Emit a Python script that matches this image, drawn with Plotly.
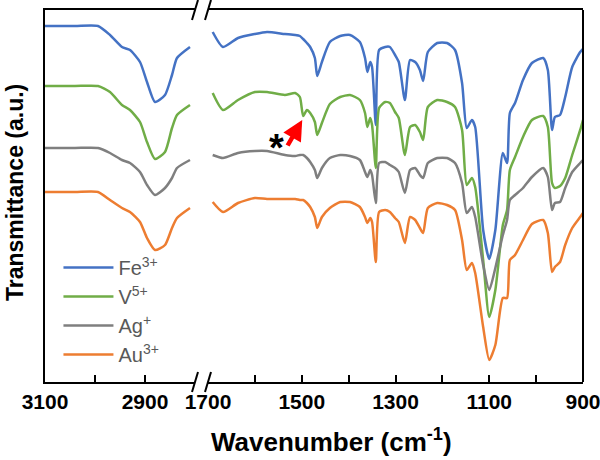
import plotly.graph_objects as go

# ---------------- data ----------------
series_names = ["Fe<sup>3+</sup>", "V<sup>5+</sup>", "Ag<sup>+</sup>", "Au<sup>3+</sup>"]
series_colors = ["#4472C4", "#70AD47", "#7F7F7F", "#ED7D31"]

# high-wavenumber window (C-H stretch)
wn_high = [3100, 3040, 2994, 2970, 2946, 2930, 2910, 2896, 2880, 2860, 2846, 2836, 2810]
fe_high = [356, 356, 356, 347, 335, 332, 320, 300, 280, 287, 307, 324, 335]
v_high = [296, 296, 296, 290, 277, 272, 260, 240, 223, 230, 254, 267, 277]
ag_high = [234, 234, 234, 229, 222, 219, 210, 197, 187, 194, 204, 214, 222]
au_high = [190, 190, 190, 182, 174, 170, 160, 144, 132, 137, 154, 164, 174]

# fingerprint window
wn_low = [1690, 1668, 1636, 1600, 1574, 1536, 1514, 1504, 1497, 1489, 1482, 1472, 1467,
          1457, 1440, 1418, 1397, 1376, 1365, 1360, 1354, 1350, 1342, 1335, 1322, 1312,
          1301, 1293, 1280, 1269, 1258, 1248, 1241, 1231, 1211, 1190, 1173, 1158, 1148,
          1137, 1130, 1113, 1100, 1087, 1071, 1062, 1056, 1045, 1028, 1009, 985, 975,
          966, 960, 949, 938, 923, 906, 900]
fe_low = [350, 335, 344, 348, 350, 348, 347, 346, 343, 339, 335, 324, 306,
          320, 340, 346, 347, 340, 324, 310, 320, 315, 257, 332, 335, 335,
          327, 320, 282, 322, 320, 312, 301, 330, 339, 339, 332, 299, 254,
          262, 255, 152, 123, 152, 229, 219, 269, 279, 302, 319, 324, 312,
          252, 265, 267, 285, 315, 330, 333]
v_low = [289, 272, 282, 290, 290, 287, 289, 285, 266, 272, 269, 260, 247,
         259, 278, 285, 287, 282, 269, 255, 264, 257, 214, 274, 280, 279,
         270, 264, 227, 255, 257, 250, 242, 275, 282, 280, 275, 252, 197,
         204, 195, 122, 65, 92, 157, 172, 212, 225, 245, 262, 266, 255,
         199, 194, 196, 204, 227, 252, 262]
ag_low = [227, 224, 229, 231, 231, 227, 226, 227, 227, 224, 220, 212, 204,
          214, 224, 227, 226, 222, 210, 205, 212, 207, 179, 219, 220, 217,
          214, 210, 189, 212, 214, 207, 204, 219, 224, 224, 219, 199, 169,
          175, 165, 117, 92, 114, 147, 162, 182, 187, 194, 205, 214, 205,
          172, 179, 180, 194, 210, 219, 222]
au_low = [180, 170, 179, 184, 183, 183, 183, 182, 182, 179, 175, 165, 154,
          165, 174, 180, 180, 175, 165, 159, 164, 160, 120, 170, 172, 170,
          164, 160, 139, 165, 162, 154, 149, 174, 179, 177, 172, 142, 112,
          119, 109, 55, 22, 37, 84, 84, 122, 127, 142, 158, 162, 149,
          110, 115, 120, 137, 154, 165, 169]

high_sets = [fe_high, v_high, ag_high, au_high]
low_sets = [fe_low, v_low, ag_low, au_low]

x_high_ticks = [3100, 3000, 2900]
x_high_labels = ["3100", "", "2900"]
x_low_ticks = [1700, 1600, 1500, 1400, 1300, 1200, 1100, 1000, 900]
x_low_labels = ["1700", "", "1500", "", "1300", "", "1100", "", "900"]

# ---------------- figure ----------------
FONT = "Arial, Liberation Sans, sans-serif"
fig = go.Figure()

for name, col, yh, yl in zip(series_names, series_colors, high_sets, low_sets):
    fig.add_trace(go.Scatter(x=wn_high, y=yh, xaxis="x", yaxis="y", mode="lines",
                             line=dict(color=col, width=2.5, shape="spline", smoothing=0.6),
                             name=name, legendgroup=name, showlegend=False))
    fig.add_trace(go.Scatter(x=wn_low, y=yl, xaxis="x2", yaxis="y", mode="lines",
                             line=dict(color=col, width=2.5, shape="spline", smoothing=0.6),
                             name=name, legendgroup=name, showlegend=True))

L, R, T, B = 45, 17, 10, 78
W, H = 600, 460
pw, ph = W - L - R, H - T - B
d1 = (195 - L) / pw
d2 = (208 - L) / pw

axis_common = dict(showline=True, linewidth=2, linecolor="black", mirror=True,
                   ticks="inside", ticklen=7, tickwidth=1.5, tickcolor="black",
                   showgrid=False, zeroline=False, automargin=False,
                   ticklabeloverflow="allow",
                   tickfont=dict(family=FONT, size=21, color="black", weight="bold"))

fig.update_layout(
    width=W, height=H,
    margin=dict(l=L, r=R, t=T, b=B, autoexpand=False),
    paper_bgcolor="white", plot_bgcolor="white",
    xaxis=dict(domain=[0, d1], range=[3100, 2800], tickmode="array",
               tickvals=x_high_ticks, ticktext=x_high_labels, anchor="y", **axis_common),
    xaxis2=dict(domain=[d2, 1], range=[1700, 900], tickmode="array",
                tickvals=x_low_ticks, ticktext=x_low_labels, anchor="y", **axis_common),
    yaxis=dict(range=[0, 372], showline=True, linewidth=2, linecolor="black",
               showticklabels=False, ticks="", showgrid=False, zeroline=False),
    yaxis2=dict(range=[0, 372], overlaying="y", anchor="x2", side="right",
                showline=True, linewidth=2, linecolor="black",
                showticklabels=False, ticks="", showgrid=False, zeroline=False),
    showlegend=True,
    legend=dict(x=0.025, y=0.36, xanchor="left", yanchor="top",
                font=dict(family=FONT, size=20, color="#595959"),
                itemwidth=50, tracegroupgap=0, bgcolor="rgba(0,0,0,0)"),
)

# right border
fig.add_shape(type="line", xref="paper", yref="paper", x0=1, x1=1, y0=0, y1=1,
              line=dict(color="black", width=2))

# axis-break marks
dx = 3 / pw
dy = 10 / ph
for cx in (d1, d2):
    for cy in (0, 1):
        fig.add_shape(type="line", xref="paper", yref="paper",
                      x0=cx - dx, x1=cx + dx, y0=cy - dy, y1=cy + dy,
                      line=dict(color="black", width=2))

# titles
fig.add_annotation(xref="paper", yref="paper", x=(331 - L) / pw, y=(382 - 440) / ph,
                   text="<b>Wavenumber (cm<sup>-1</sup>)</b>", showarrow=False,
                   font=dict(family=FONT, size=26, color="black"),
                   xanchor="center", yanchor="middle")
fig.add_annotation(xref="paper", yref="paper", x=(15 - L) / pw, y=(382 - 193) / ph,
                   text="<b>Transmittance (a.u.)</b>", textangle=-90, showarrow=False,
                   font=dict(family=FONT, size=23, color="black"),
                   xanchor="center", yanchor="middle")

# marker for the new band
fig.add_annotation(xref="x2", yref="y", x=1499, y=262, ax=1532, ay=235,
                   axref="x2", ayref="y", showarrow=True, arrowhead=2, arrowsize=0.9,
                   arrowwidth=4.5, arrowcolor="#FF0000", text="")
fig.add_annotation(xref="x2", yref="y", x=1553, y=240, yshift=-6, text="<b>*</b>",
                   showarrow=False, font=dict(family=FONT, size=38, color="black"))

fig.write_html("out.html", post_script="document.body.style.margin='0';",
               config={"displayModeBar": False})
